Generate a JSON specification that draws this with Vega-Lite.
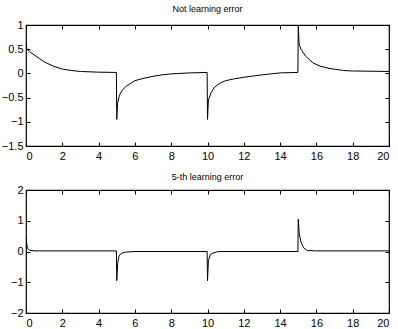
{
  "$schema": "https://vega.github.io/schema/vega-lite/v6.json",
  "background": "white",
  "padding": {"left": 0, "top": 4, "right": 4, "bottom": 0},
  "spacing": 10,
  "config": {
    "view": {"stroke": "black", "strokeWidth": 1.2},
    "font": "Liberation Sans",
    "axis": {
      "domain": false,
      "grid": false,
      "ticks": true,
      "tickColor": "black",
      "tickSize": -4,
      "labelFont": "Liberation Sans",
      "labelFontSize": 11,
      "labelColor": "black",
      "format": "~g",
      "title": null
    },
    "axisX": {"labelPadding": 8},
    "axisY": {"labelPadding": 7},
    "title": {"fontSize": 9, "fontWeight": "normal", "font": "Liberation Sans", "color": "black", "offset": 5}
  },
  "datasets": {
    "top": [
      {"t": 0, "e": 0.65}, {"t": 0.05, "e": 0.5}, {"t": 0.2, "e": 0.45}, {"t": 0.5, "e": 0.37},
      {"t": 1, "e": 0.24}, {"t": 1.5, "e": 0.15}, {"t": 2, "e": 0.09}, {"t": 2.5, "e": 0.06},
      {"t": 3, "e": 0.04}, {"t": 4, "e": 0.025}, {"t": 4.98, "e": 0.02},
      {"t": 5, "e": -0.95}, {"t": 5.05, "e": -0.6}, {"t": 5.15, "e": -0.45}, {"t": 5.3, "e": -0.35},
      {"t": 5.5, "e": -0.27}, {"t": 6, "e": -0.15}, {"t": 6.5, "e": -0.1}, {"t": 7, "e": -0.06},
      {"t": 7.5, "e": -0.03}, {"t": 8, "e": -0.01}, {"t": 9, "e": 0.01}, {"t": 9.98, "e": 0.02},
      {"t": 10, "e": -0.95}, {"t": 10.05, "e": -0.55}, {"t": 10.2, "e": -0.4}, {"t": 10.4, "e": -0.28},
      {"t": 10.7, "e": -0.2}, {"t": 11, "e": -0.15}, {"t": 11.5, "e": -0.11}, {"t": 12, "e": -0.08},
      {"t": 13, "e": -0.03}, {"t": 14, "e": 0.01}, {"t": 14.98, "e": 0.02},
      {"t": 15, "e": 1.0}, {"t": 15.05, "e": 0.6}, {"t": 15.15, "e": 0.5}, {"t": 15.4, "e": 0.36},
      {"t": 15.8, "e": 0.22}, {"t": 16.2, "e": 0.15}, {"t": 16.75, "e": 0.1}, {"t": 17.5, "e": 0.06},
      {"t": 18, "e": 0.05}, {"t": 20, "e": 0.04}
    ],
    "bottom": [
      {"t": 0, "e": 0.5}, {"t": 0.03, "e": 0.3}, {"t": 0.08, "e": 0.1}, {"t": 0.2, "e": 0.04},
      {"t": 0.5, "e": 0.02}, {"t": 4.98, "e": 0.02},
      {"t": 5, "e": -0.95}, {"t": 5.05, "e": -0.4}, {"t": 5.12, "e": -0.15}, {"t": 5.25, "e": -0.06},
      {"t": 5.5, "e": -0.02}, {"t": 6, "e": 0.0}, {"t": 9.98, "e": 0.0},
      {"t": 10, "e": -0.95}, {"t": 10.05, "e": -0.3}, {"t": 10.15, "e": -0.1}, {"t": 10.3, "e": -0.05},
      {"t": 10.6, "e": 0.0}, {"t": 14.98, "e": 0.0},
      {"t": 15, "e": 1.05}, {"t": 15.05, "e": 0.6}, {"t": 15.15, "e": 0.3}, {"t": 15.3, "e": 0.12},
      {"t": 15.5, "e": 0.03}, {"t": 16, "e": 0.02}, {"t": 20, "e": 0.02}
    ]
  },
  "vconcat": [
    {
      "title": "Not learning error",
      "width": 363,
      "height": 121,
      "data": {"name": "top"},
      "layer": [
        {
          "mark": {"type": "line", "color": "black", "strokeWidth": 1, "clip": true},
          "encoding": {
            "x": {"field": "t", "type": "quantitative", "scale": {"domain": [0, 20], "nice": false},
                  "axis": {"orient": "bottom", "values": [0, 2, 4, 6, 8, 10, 12, 14, 16, 18, 20]}},
            "y": {"field": "e", "type": "quantitative", "scale": {"domain": [-1.5, 1], "nice": false, "zero": false},
                  "axis": {"orient": "left", "values": [-1.5, -1, -0.5, 0, 0.5, 1]}}
          }
        },
        {
          "mark": {"type": "line", "strokeOpacity": 0},
          "encoding": {
            "x": {"field": "t", "type": "quantitative",
                  "axis": {"orient": "top", "labels": false, "values": [0, 2, 4, 6, 8, 10, 12, 14, 16, 18, 20]}},
            "y": {"field": "e", "type": "quantitative",
                  "axis": {"orient": "right", "labels": false, "values": [-1.5, -1, -0.5, 0, 0.5, 1]}}
          }
        }
      ],
      "resolve": {"axis": {"x": "independent", "y": "independent"}}
    },
    {
      "title": {"text": "5-th learning error", "offset": 2},
      "width": 363,
      "height": 123,
      "data": {"name": "bottom"},
      "layer": [
        {
          "mark": {"type": "line", "color": "black", "strokeWidth": 1, "clip": true},
          "encoding": {
            "x": {"field": "t", "type": "quantitative", "scale": {"domain": [0, 20], "nice": false},
                  "axis": {"orient": "bottom", "values": [0, 2, 4, 6, 8, 10, 12, 14, 16, 18, 20]}},
            "y": {"field": "e", "type": "quantitative", "scale": {"domain": [-2, 2], "nice": false, "zero": false},
                  "axis": {"orient": "left", "values": [-2, -1, 0, 1, 2]}}
          }
        },
        {
          "mark": {"type": "line", "strokeOpacity": 0},
          "encoding": {
            "x": {"field": "t", "type": "quantitative",
                  "axis": {"orient": "top", "labels": false, "values": [0, 2, 4, 6, 8, 10, 12, 14, 16, 18, 20]}},
            "y": {"field": "e", "type": "quantitative",
                  "axis": {"orient": "right", "labels": false, "values": [-2, -1, 0, 1, 2]}}
          }
        }
      ],
      "resolve": {"axis": {"x": "independent", "y": "independent"}}
    }
  ]
}
